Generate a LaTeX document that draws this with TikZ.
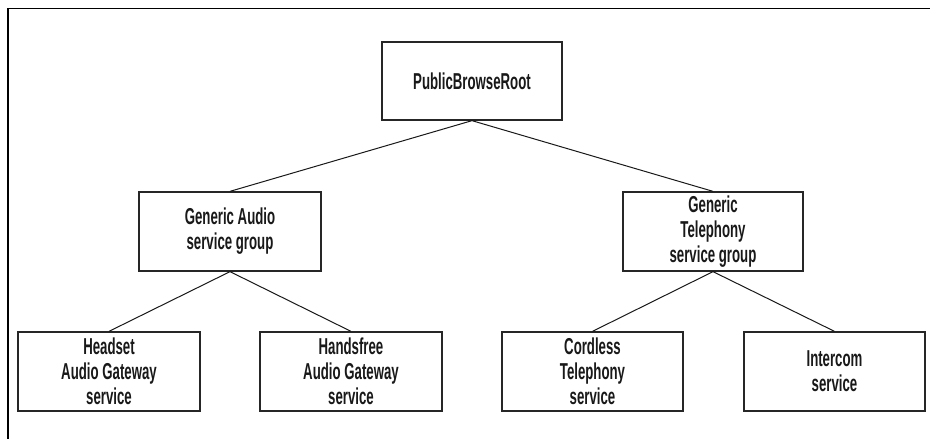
\documentclass[tikz,border=0pt]{standalone}
\usepackage{fontspec}
\setmainfont[FakeStretch=0.575]{Liberation Sans}
\begin{document}
\begin{tikzpicture}[x=1pt,y=-1pt,
  box/.style={draw=black!85, line width=1.3pt, rectangle, inner sep=0pt,
    minimum height=79pt, align=center, text=black!90,
    font=\fontsize{23}{25}\selectfont\bfseries},
  link/.style={draw=black!90, line width=1pt}]
\useasboundingbox (0,0) rectangle (930,439);
\fill[white] (0,0) rectangle (930,439);
\draw[black, line width=1.6pt] (8,439) -- (8,8.5) -- (930,8.5);
\node[box, minimum width=180pt, minimum height=78pt] (root) at (472,81) {PublicBrowseRoot};
\node[box, minimum width=182pt] (ga) at (230,231.5) {Generic Audio\\service group};
\node[box, minimum width=180pt] (gt) at (713,231.5) {Generic\\Telephony\\service group};
\node[box, minimum width=182pt] (hs) at (109,371.5) {Headset\\Audio Gateway\\service};
\node[box, minimum width=182pt] (hf) at (351,371.5) {Handsfree\\Audio Gateway\\service};
\node[box, minimum width=181pt] (cl) at (592.5,371.5) {Cordless\\Telephony\\service};
\node[box, minimum width=181pt] (ic) at (834.5,371.5) {Intercom\\service};
\draw[link] (root.south) -- (ga.north);
\draw[link] (root.south) -- (gt.north);
\draw[link] (ga.south) -- (hs.north);
\draw[link] (ga.south) -- (hf.north);
\draw[link] (gt.south) -- (cl.north);
\draw[link] (gt.south) -- (ic.north);
\end{tikzpicture}
\end{document}
